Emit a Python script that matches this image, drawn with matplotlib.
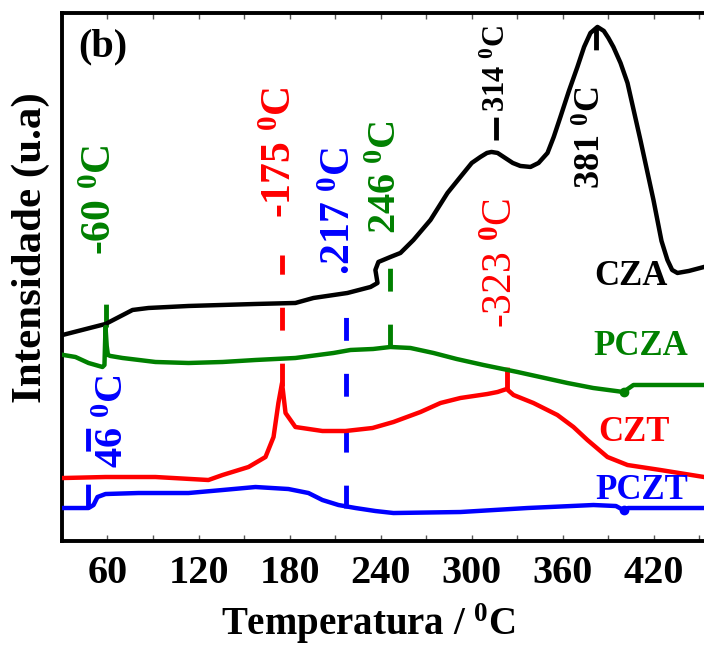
import matplotlib.pyplot as plt
from matplotlib.ticker import MultipleLocator

plt.rcParams['font.family'] = ['Liberation Serif', 'DejaVu Serif']
plt.rcParams['font.weight'] = 'bold'
plt.rcParams['mathtext.fontset'] = 'custom'
plt.rcParams['mathtext.rm'] = 'Liberation Serif:bold'
plt.rcParams['mathtext.it'] = 'Liberation Serif:bold'
plt.rcParams['mathtext.bf'] = 'Liberation Serif:bold'

# curves (temperature in C, intensity in a.u.)
cza_t = [30.4, 58.7, 76.5, 87, 113.4, 157.5, 183.8, 195.7, 218.1, 233.3, 237.9, 236.5, 238.5,
         246.4, 253, 261.6, 272.8, 284.0, 292.5, 300, 305.7, 310, 313, 317, 322, 327, 332,
         338.7, 344, 349.9, 354, 358.4, 364, 369.6, 374, 378.2, 382.8, 387, 390, 393.3, 398,
         402.6, 411.1, 419.7, 425, 428.9, 432, 435.5, 443, 453]
cza_i = [206, 217, 231, 233, 235, 237, 238, 243, 248, 254, 258, 271, 279,
         284, 288, 301, 321, 348, 364, 378, 384, 388, 389, 388, 383, 378, 375,
         374, 378, 388, 404, 424, 450, 474, 494, 508, 514, 510, 503, 494, 478,
         458, 401, 341, 300, 281, 271, 268, 270, 274]

pcza_t = [31.0, 38.9, 47.5, 56.7, 58.0, 58.7, 59.5, 60.3, 62, 69.9, 91.6, 113.4, 135.8, 157.5,
          183.8, 208.9, 220.1, 235, 246.4, 259.6, 274.8, 290, 307.7, 330.1, 363.0, 380,
          399.9, 406.5, 453]
pcza_i = [186, 184, 178, 174, 176, 214, 195, 186, 185, 183, 179, 178, 179, 181,
          183, 188, 191, 192, 194, 193, 188, 182, 176, 169, 158, 153,
          149, 156, 156]

czt_t = [31.0, 58.7, 91.6, 126.5, 135.8, 152.9, 164.1, 169.4, 172.6, 175.0, 177.3, 183.8,
         201.6, 216.8, 234.6, 248.4, 266.2, 279.4, 292.5, 310.3, 317, 323, 327.5, 340.6,
         356.4, 367.0, 376.2, 389.4, 402.6, 424.3, 453]
czt_i = [63, 64, 64, 61, 66, 74, 84, 104, 138, 158, 128, 114,
         110, 110, 113, 119, 129, 138, 143, 147, 149, 152, 146, 138,
         126, 114, 101, 84, 76, 71, 64]

pczt_t = [31.0, 47.5, 50.8, 53.4, 58.7, 80.4, 113.4, 135.8, 157.5, 179.2, 192.4, 201.6,
          212.2, 223.4, 236.5, 248.4, 292.5, 336.7, 380.2, 395, 399.9, 403, 453]
pczt_i = [33, 33, 36, 44, 47, 48, 48, 51, 54, 52, 48, 41,
          36, 33, 30, 28, 29, 33, 36, 35, 31, 33, 33]

# peak markers: (temperature, y start, y end, colour)
mark_t = [59, 175, 217, 47, 246, 323, 382, 316]
mark_y0 = [214, 155, 33, 34, 194, 151, 514, 401]
mark_y1 = [239, 286, 228, 113, 274, 174, 489, 424]
mark_c = ['green', 'red', 'blue', 'blue', 'green', 'red', 'black', 'black']

# peak labels
lab_text = [r'-60 $^0$C', r'-175 $^0$C', r'.217 $^0$C', r'46 $^0$C', r'246 $^0$C',
            r'-323 $^0$C', r'381 $^0$C', r'314 $^0$C']
lab_t = [56, 174, 213.5, 64, 244, 319.6, 379.5, 317]
lab_y = [341, 389, 330, 120, 364, 278, 403, 472]
lab_c = ['green', 'red', 'blue', 'blue', 'green', 'red', 'black', 'black']
lab_size = [30, 30, 30, 29, 29, 30, 26, 22]
lab_weight = ['bold', 'bold', 'bold', 'bold', 'bold', 'normal', 'bold', 'bold']

fig = plt.figure(figsize=(7.04, 6.46), dpi=100)
ax = fig.add_axes([0.088, 0.1625, 0.912, 0.8175])

ax.plot(cza_t, cza_i, color='black', lw=3.2, zorder=3)
ax.plot(pcza_t, pcza_i, color='green', lw=3.2, zorder=3)
ax.plot(czt_t, czt_i, color='red', lw=3.2, zorder=3)
ax.plot(pczt_t, pczt_i, color='blue', lw=3.2, zorder=3)

ax.plot([400], [149], 'o', color='green', ms=6, zorder=4)
ax.plot([400], [31], 'o', color='blue', ms=6, zorder=4)

for t, y0, y1, c in zip(mark_t, mark_y0, mark_y1, mark_c):
    ax.plot([t, t], [y0, y1], color=c, lw=3.5, dashes=(4.7, 6.8), solid_capstyle='butt',
            dash_capstyle='butt', zorder=2)

for s, t, y, c, fs, w in zip(lab_text, lab_t, lab_y, lab_c, lab_size, lab_weight):
    ax.text(t, y, s, color=c, fontsize=fs, fontweight=w, rotation=90,
            ha='center', va='center')

ax.text(0.064, 0.935, '(b)', transform=ax.transAxes, fontsize=29, fontweight='bold',
        ha='center', va='center')
ax.text(405, 264, 'CZA', color='black', fontsize=25, fontweight='bold', ha='center', va='center')
ax.text(411, 194, 'PCZA', color='green', fontsize=25, fontweight='bold', ha='center', va='center')
ax.text(407, 109, 'CZT', color='red', fontsize=25, fontweight='bold', ha='center', va='center')
ax.text(412, 51, 'PCZT', color='blue', fontsize=25, fontweight='bold', ha='center', va='center')

ax.set_xlim(30, 453)
ax.set_ylim(0, 528)
ax.set_yticks([])
ax.xaxis.set_major_locator(MultipleLocator(60))
ax.xaxis.set_minor_locator(MultipleLocator(30))
ax.tick_params(axis='x', which='both', direction='in', top=True, length=4, width=1,
               color='#555555', labelsize=29, pad=10)
for lbl in ax.get_xticklabels():
    lbl.set_fontweight('bold')
for side in ['left', 'top', 'bottom']:
    ax.spines[side].set_linewidth(2.8)
ax.spines['right'].set_visible(False)

ax.set_xlabel(r'Temperatura / $^0$C', fontsize=28, fontweight='bold')
ax.set_ylabel('Intensidade (u.a)', fontsize=31, fontweight='bold')
ax.xaxis.set_label_coords(0.477, -0.115)
ax.yaxis.set_label_coords(-0.018, 0.555)

plt.savefig('out.png', dpi=100)
